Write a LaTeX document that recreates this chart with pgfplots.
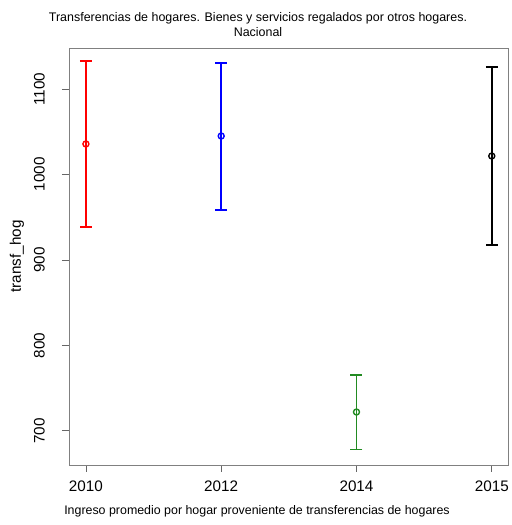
\documentclass[border=0pt]{standalone}
\usepackage{pgfplots}
\pgfplotsset{compat=1.18}
\usepackage{fontspec}
\setmainfont{Liberation Sans}
\definecolor{rgreen}{RGB}{34,139,34}
\begin{document}
\begin{tikzpicture}[x=1bp,y=1bp]
\begin{axis}[
  scale only axis,
  width=439bp, height=417bp,
  xmin=0.875, xmax=4.12,
  ymin=660, ymax=1148,
  xtick={1,2,3,4},
  xticklabels={2010,2012,2014,2015},
  ytick={700,800,900,1000,1100},
  axis line style={gray, line width=0.8pt},
  tick style={gray!80!black, line width=0.8pt},
  tick align=outside,
  major tick length=7bp,
  xtick pos=bottom, ytick pos=left,
  /pgf/number format/assume math mode=true,
  /pgf/number format/set thousands separator={},
  ticklabel style={font=\fontsize{15.3}{15.3}\selectfont},
  yticklabel style={rotate=90, anchor=south, inner sep=0pt, yshift=17bp},
  xticklabel style={anchor=north, inner sep=0pt, yshift=-9bp},
  clip=false,
  error bars/y dir=both,
  error bars/y explicit,
]
\addplot[red, line width=1.6pt, mark=o, mark size=3bp, mark options={line width=1.4pt},
  error bars/.cd, error mark options={rotate=90, mark size=6bp, line width=1.6pt}, error bar style={line width=1.6pt}]
  coordinates {(1,1035.7) += (0,97.0) -= (0,97.1)};
\addplot[blue, line width=1.6pt, mark=o, mark size=3bp, mark options={line width=1.4pt},
  error bars/.cd, error mark options={rotate=90, mark size=6bp, line width=1.6pt}, error bar style={line width=1.6pt}]
  coordinates {(2,1045.0) += (0,85.4) -= (0,86.5)};
\addplot[rgreen, line width=1.6pt, mark=o, mark size=3bp, mark options={line width=1.4pt},
  error bars/.cd, error mark options={rotate=90, mark size=6bp, line width=1.6pt}, error bar style={line width=1.6pt}]
  coordinates {(3,722.0) += (0,43.5) -= (0,44.0)};
\addplot[black, line width=1.6pt, mark=o, mark size=3bp, mark options={line width=1.4pt},
  error bars/.cd, error mark options={rotate=90, mark size=6bp, line width=1.6pt}, error bar style={line width=1.6pt}]
  coordinates {(4,1021.6) += (0,104.1) -= (0,104.1)};
\end{axis}
% titles and labels (image px: axis SW at (69,465))
\node[font=\fontsize{12.5}{15}\selectfont, align=center] at (189, 440) {Transferencias de hogares. Bienes y servicios regalados por otros hogares.\\Nacional};
\node[font=\fontsize{12.45}{12.45}\selectfont] at (188, -46) {Ingreso promedio por hogar proveniente de transferencias de hogares};
\node[font=\fontsize{15.3}{15.3}\selectfont, rotate=90] at (-52, 208.5) {transf\_hog};
\pgfresetboundingbox
\useasboundingbox (-69,-60) rectangle (443,465);
\end{tikzpicture}
\end{document}
